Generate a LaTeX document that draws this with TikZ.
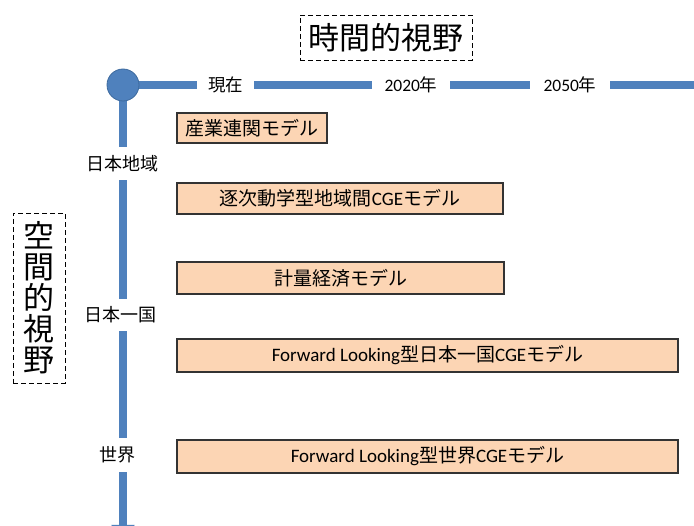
\documentclass[tikz,border=0pt]{standalone}
\usepackage{fontspec}
\setmainfont{Noto Sans CJK JP}
\newfontfamily\latinf{Carlito}
\usetikzlibrary{arrows.meta}
\definecolor{axblue}{HTML}{4F81BD}
\definecolor{axdark}{HTML}{3D6A9E}
\definecolor{peach}{HTML}{FCD5B4}
\tikzset{
  axisline/.style={draw=axblue, line width=8pt},
  hlabel/.style={inner sep=0pt, minimum height=10pt, font=\fontsize{17.5pt}{19pt}\selectfont, text=black},
  vlabel/.style={inner sep=0pt, minimum width=10pt, font=\fontsize{18pt}{20pt}\selectfont, text=black},
  modelbox/.style={draw=black!80, line width=1.3pt, fill=peach, inner sep=0pt, font=\fontsize{19pt}{21pt}\selectfont},
  titlebox/.style={draw=black, dashed, dash pattern=on 5pt off 3pt, line width=0.9pt, inner sep=0pt, font=\fontsize{31pt}{31pt}\selectfont}
}
\begin{document}
\begin{tikzpicture}[x=1pt,y=-1pt]
\useasboundingbox (0,0) rectangle (694,526);
\clip (0,0) rectangle (694,526);
\fill[white] (0,0) rectangle (694,526);

% title boxes
\node[titlebox, minimum width=172pt, minimum height=45pt] (ttime) at (386,37.5) {時間的視野};
\node[titlebox, minimum width=52pt, minimum height=170pt, align=center] (tspace) at (39,298) {空\\間\\的\\視\\野};

% axis origin and labels
\coordinate (oc) at (123,85);
\node[hlabel, minimum width=57pt] (now) at (225.5,85) {現在};
\node[hlabel, minimum width=78pt] (y2020) at (411,85) {{\latinf 2020}年};
\node[hlabel, minimum width=80pt] (y2050) at (570,85) {{\latinf 2050}年};
\coordinate (hend) at (714,85);

\node[vlabel, minimum height=33pt] (region) at (122,163.5) {日本地域};
\node[vlabel, minimum height=32pt] (japan) at (120,315) {日本一国};
\node[vlabel, minimum height=34pt] (world) at (117,455) {世界};
\coordinate (vend) at (123,543);

% horizontal axis
\draw[axisline] (oc) -- (now.west);
\draw[axisline] (now.east) -- (y2020.west);
\draw[axisline] (y2020.east) -- (y2050.west);
\draw[axisline, -{Triangle[width=22pt,length=18pt]}] (y2050.east) -- (hend);

% vertical axis
\draw[axisline] (oc) -- (oc |- region.north);
\draw[axisline] (oc |- region.south) -- (oc |- japan.north);
\draw[axisline] (oc |- japan.south) -- (oc |- world.north);
\draw[axisline, -{Triangle[width=22pt,length=18pt]}] (oc |- world.south) -- (vend);

\node[circle, fill=axblue, draw=axdark, line width=0.8pt, minimum size=32pt, inner sep=0pt] (origin) at (oc) {};

% model boxes
\node[modelbox, minimum width=150pt, minimum height=30pt] (io) at (252,128) {産業連関モデル};
\node[modelbox, minimum width=326pt, minimum height=31pt] (dyn) at (340,198.5) {逐次動学型地域間{\latinf CGE}モデル};
\node[modelbox, minimum width=327pt, minimum height=32pt] (econ) at (340.5,278) {計量経済モデル};
\node[modelbox, minimum width=501pt, minimum height=33pt] (fljp) at (427.5,355.5) {{\latinf Forward Looking}型日本一国{\latinf CGE}モデル};
\node[modelbox, minimum width=501pt, minimum height=33pt] (flw) at (427.5,456.5) {{\latinf Forward Looking}型世界{\latinf CGE}モデル};
\end{tikzpicture}
\end{document}
